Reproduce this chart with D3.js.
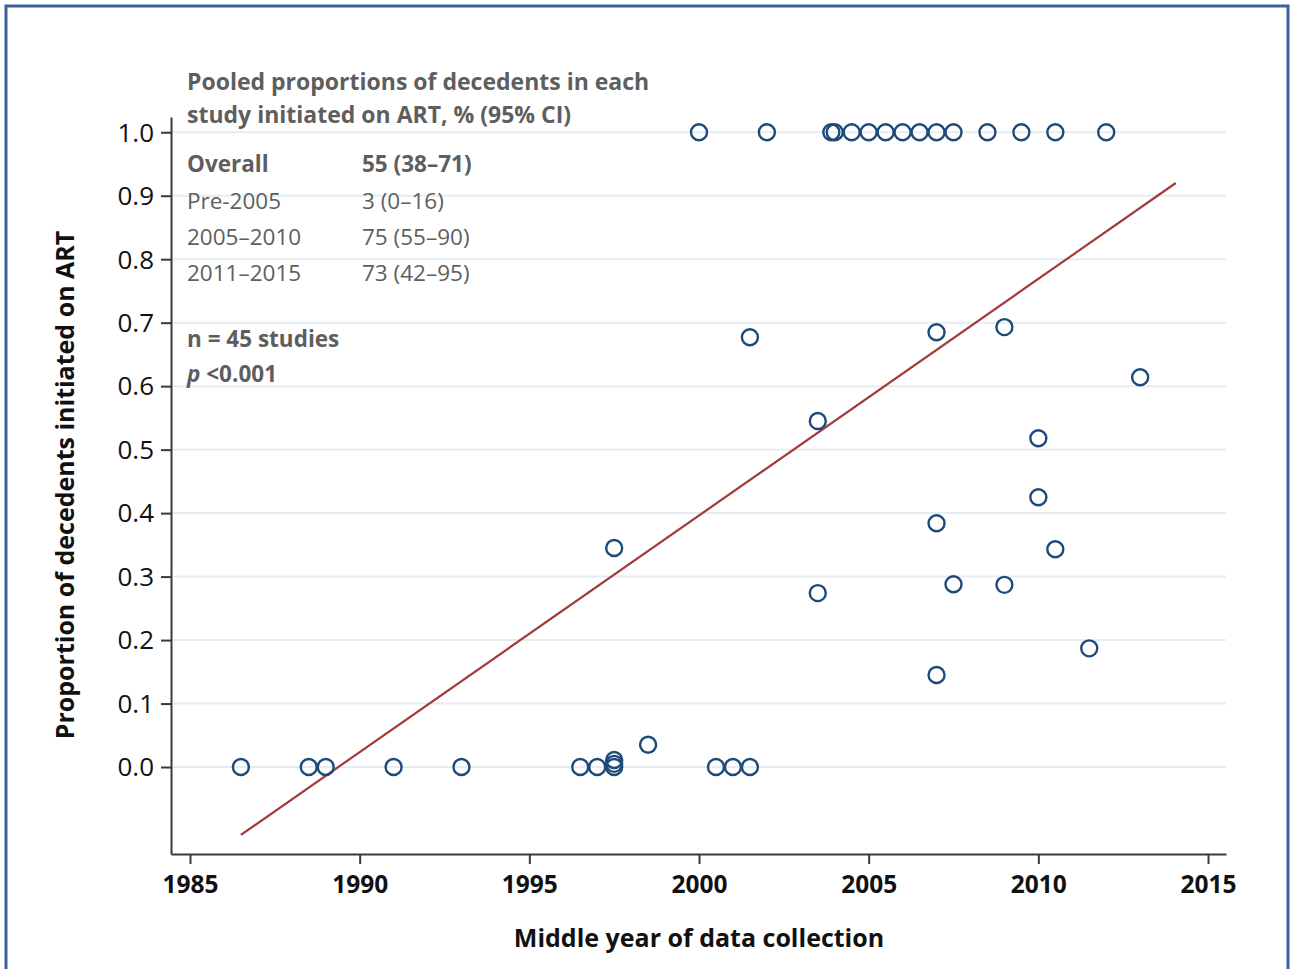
<!DOCTYPE html>
<html>
<head>
<meta charset="utf-8">
<script src="https://cdn.jsdelivr.net/npm/d3@7"></script>
<style>
  html, body { margin: 0; padding: 0; background: #fff; }
  svg { display: block; }
  text { font-family: "Open Sans", Lato, sans-serif; }
</style>
</head>
<body>
<script>
// ---- data ----
const studyYear = [
  2000, 2002, 2003.9, 2004, 2004.5, 2005, 2005.5, 2006, 2006.5, 2007, 2007.5, 2008.5, 2009.5, 2010.5, 2012,
  1986.5, 1988.5, 1989, 1991, 1993, 1996.5, 1997, 1997.5, 1997.5, 1997.5, 1998.5, 2000.5, 2001, 2001.5,
  1997.5, 2001.5, 2003.5, 2003.5, 2007, 2009, 2013, 2010, 2010, 2007, 2010.5, 2007.5, 2009, 2011.5, 2007
];
const studyProp = [
  1, 1, 1, 1, 1, 1, 1, 1, 1, 1, 1, 1, 1, 1, 1,
  0, 0, 0, 0, 0, 0, 0, 0, 0.005, 0.011, 0.035, 0, 0, 0,
  0.345, 0.677, 0.545, 0.274, 0.685, 0.693, 0.614, 0.518, 0.425, 0.384, 0.343, 0.288, 0.287, 0.187, 0.145
];
const fitYears = [1986.5, 2014.05];
const fitProps = [-0.107, 0.92];

const xTicks = [1985, 1990, 1995, 2000, 2005, 2010, 2015];
const yTicks = [0, 0.1, 0.2, 0.3, 0.4, 0.5, 0.6, 0.7, 0.8, 0.9, 1.0];

const xTitle = "Middle year of data collection";
const yTitle = "Proportion of decedents initiated on ART";

const annoTitle = ["Pooled proportions of decedents in each", "study initiated on ART, % (95% CI)"];
const rowLabels = ["Overall", "Pre-2005", "2005–2010", "2011–2015"];
const rowValues = ["55 (38–71)", "3 (0–16)", "75 (55–90)", "73 (42–95)"];
const nLabel = "n = 45 studies";

// ---- drawing ----
const W = 1290, H = 969;
const svg = d3.select("body").append("svg").attr("width", W).attr("height", H);

// frame
svg.append("path")
  .attr("d", `M6,${H} L6,6 L1288,6 L1288,${H}`)
  .attr("fill", "none").attr("stroke", "#3d5f9e").attr("stroke-width", 3);

const x = d3.scaleLinear().domain([1984.44, 2015.53]).range([171, 1226]);
const y = d3.scaleLinear().domain([-0.137, 1.024]).range([854, 117]);

// grid
svg.append("g").selectAll("line").data(yTicks).join("line")
  .attr("x1", 171).attr("x2", 1226)
  .attr("y1", d => y(d)).attr("y2", d => y(d))
  .attr("stroke", "#e4eef2").attr("stroke-width", 2);

// axes
const axisColor = "#3a3a3a";
const gy = svg.append("g").attr("transform", "translate(171,0)")
  .call(d3.axisLeft(y).tickValues(yTicks).tickFormat(d3.format(".1f")).tickSize(10).tickSizeOuter(0).tickPadding(7));
gy.select(".domain").attr("stroke", axisColor).attr("stroke-width", 2);
gy.selectAll(".tick line").attr("stroke", axisColor).attr("stroke-width", 2);
gy.selectAll(".tick text").attr("font-size", 26).attr("fill", "#111").attr("font-family", "'Open Sans', sans-serif").attr("dy", "0.34em");

const gx = svg.append("g").attr("transform", "translate(0,854)")
  .call(d3.axisBottom(x).tickValues(xTicks).tickFormat(d3.format("d")).tickSize(10).tickSizeOuter(0).tickPadding(12));
gx.select(".domain").attr("stroke", axisColor).attr("stroke-width", 2);
gx.selectAll(".tick line").attr("stroke", axisColor).attr("stroke-width", 2);
gx.selectAll(".tick text").attr("font-size", 24.5).attr("font-weight", "bold").attr("fill", "#111").attr("font-family", "'Open Sans', sans-serif");

// axis titles
svg.append("text").attr("x", 699).attr("y", 947).attr("text-anchor", "middle")
  .attr("font-size", 25).attr("font-weight", "bold").attr("fill", "#111").text(xTitle);
svg.append("text").attr("transform", "translate(74,485) rotate(-90)").attr("text-anchor", "middle")
  .attr("font-size", 25).attr("font-weight", "bold").attr("fill", "#111").text(yTitle);

// regression line
const fit = fitYears.map((d, i) => [d, fitProps[i]]);
svg.append("path").datum(fit)
  .attr("d", d3.line().x(d => x(d[0])).y(d => y(d[1])))
  .attr("fill", "none").attr("stroke", "#a33a3c").attr("stroke-width", 2.2);

// points
const pts = studyYear.map((d, i) => ({ yr: d, p: studyProp[i] }));
svg.append("g").selectAll("circle").data(pts).join("circle")
  .attr("cx", d => x(d.yr)).attr("cy", d => y(d.p)).attr("r", 8)
  .attr("fill", "none").attr("stroke", "#1d4a78").attr("stroke-width", 2.4);

// annotation
const grey = "#5e5e5e";
const ann = svg.append("g").attr("fill", grey).attr("font-size", 22.5);
annoTitle.forEach((t, i) => {
  ann.append("text").attr("x", 187).attr("y", 90 + i * 33).attr("font-weight", "bold").attr("font-size", 23).text(t);
});
const rowY = [172, 209, 245, 281];
rowLabels.forEach((t, i) => {
  ann.append("text").attr("x", 187).attr("y", rowY[i]).attr("font-weight", i === 0 ? "bold" : "normal").text(t);
  ann.append("text").attr("x", 362).attr("y", rowY[i]).attr("font-weight", i === 0 ? "bold" : "normal").text(rowValues[i]);
});
ann.append("text").attr("x", 187).attr("y", 347).attr("font-weight", "bold").text(nLabel);
const pt = ann.append("text").attr("x", 187).attr("y", 382).attr("font-weight", "bold");
pt.append("tspan").attr("font-style", "italic").text("p");
pt.append("tspan").text(" <0.001");
</script>
</body>
</html>
